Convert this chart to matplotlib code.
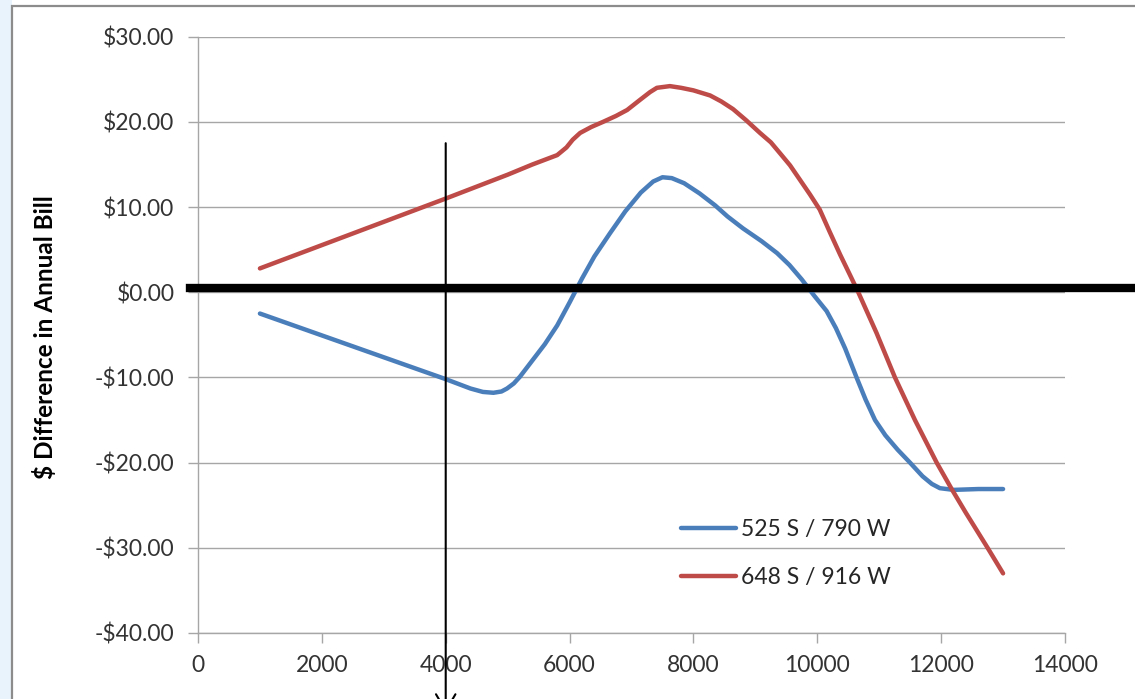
import matplotlib
matplotlib.use("Agg")
import matplotlib.pyplot as plt
from matplotlib.patches import Rectangle
from matplotlib.lines import Line2D
import matplotlib.transforms as mtransforms
from matplotlib.ticker import FuncFormatter

plt.rcParams['font.family'] = ['Lato', 'DejaVu Sans']

# ---- data ----
series_names = ["525 S / 790 W", "648 S / 916 W"]

blue_x = [1000, 4000, 4400, 4600, 4770, 4900, 4990, 5100, 5200, 5400, 5600, 5800, 6000,
          6200, 6400, 6650, 6900, 7150, 7350, 7500, 7650, 7850, 8100, 8350, 8550,
          8800, 9100, 9350, 9550, 9750, 9950, 10150, 10300, 10450, 10634, 10780, 10932,
          11100, 11300, 11497, 11700, 11850, 11980, 12200, 12600, 13000]
blue_y = [-2.5, -10.2, -11.3, -11.7, -11.8, -11.65, -11.3, -10.7, -9.9, -8.0, -6.1, -3.9, -1.2,
          1.6, 4.2, 6.9, 9.5, 11.7, 13.0, 13.5, 13.4, 12.8, 11.6, 10.2, 8.9,
          7.5, 6.0, 4.6, 3.2, 1.5, -0.4, -2.2, -4.2, -6.6, -10.0, -12.6, -15.0,
          -16.8, -18.5, -20.0, -21.6, -22.5, -23.0, -23.2, -23.1, -23.1]

red_x = [1000, 4000, 5000, 5400, 5800, 5950, 6050, 6170, 6350, 6540, 6750, 6930,
         7140, 7300, 7410, 7620, 7800, 8000, 8270, 8450, 8640, 8850, 9075, 9250,
         9400, 9560, 9720, 9880, 10040, 10200, 10370, 10530, 10662, 10958, 11254,
         11577, 11928, 12170, 12400, 12750, 13000]
red_y = [2.8, 11.0, 13.8, 15.0, 16.1, 17.0, 17.9, 18.7, 19.4, 20.0, 20.7, 21.4,
         22.6, 23.5, 24.0, 24.2, 24.0, 23.7, 23.1, 22.4, 21.5, 20.2, 18.7, 17.6,
         16.3, 14.9, 13.2, 11.5, 9.7, 7.1, 4.4, 2.0, 0.0, -4.8, -10.0,
         -15.0, -20.0, -23.1, -25.9, -30.0, -33.0]

x_ticks = [0, 2000, 4000, 6000, 8000, 10000, 12000, 14000]
y_ticks = [-40, -30, -20, -10, 0, 10, 20, 30]
zero_band_y = 0.55
marker_x = 4000
marker_top_y = 17.5

W, H = 1135, 699
fig = plt.figure(figsize=(W / 100, H / 100), dpi=100)

# left light-blue strip and chart frame
fig.patches.append(Rectangle((0, 0), 12 / W, 1, transform=fig.transFigure,
                             facecolor='#E9F3FB', edgecolor='none', zorder=-2))
fig.patches.append(Rectangle((12 / W, -0.05), 1.2, 1.05 - 6 / H, transform=fig.transFigure,
                             facecolor='white', edgecolor='#8C8C8C', linewidth=1.6, zorder=-1))

ax = fig.add_axes([198 / W, 1 - 633 / H, (1065 - 198) / W, (633 - 36.7) / H])
ax.set_zorder(1)
ax.set_facecolor('none')

ax.plot(blue_x, blue_y, color='#4A7EBB', lw=3.2, solid_capstyle='round',
        solid_joinstyle='round', label=series_names[0], zorder=3)
ax.plot(red_x, red_y, color='#BE4B48', lw=3.2, solid_capstyle='round',
        solid_joinstyle='round', label=series_names[1], zorder=3)

ax.set_xlim(0, 14000)
ax.set_ylim(-40, 30)
ax.set_xticks(x_ticks)
ax.set_yticks(y_ticks)
ax.yaxis.set_major_formatter(FuncFormatter(lambda v, p: ('-$%.2f' % abs(v)) if v < 0 else ('$%.2f' % v)))
ax.grid(axis='y', color='#A6A6A6', lw=1.0, zorder=1)
ax.set_axisbelow(True)
for s in ['top', 'right']:
    ax.spines[s].set_visible(False)
for s in ['left', 'bottom']:
    ax.spines[s].set_color('#A6A6A6')
    ax.spines[s].set_linewidth(1.0)
ax.tick_params(axis='both', direction='out', length=7, width=1.0, color='#A6A6A6',
               labelsize=16.5, labelcolor='#333333')
ax.tick_params(axis='y', pad=10)
ax.tick_params(axis='x', pad=9)

fig.text(45 / W, 1 - 337 / H, '$ Difference in Annual Bill', rotation=90,
         ha='center', va='center', fontsize=17.5, fontweight='bold', color='black')

# thick zero band extending beyond the plot
trans_fy = mtransforms.blended_transform_factory(fig.transFigure, ax.transData)
fig.add_artist(Line2D([190 / W, 1.0], [zero_band_y, zero_band_y], transform=trans_fy,
                      color='black', lw=6.0, zorder=5))

# vertical marker line with arrow at the bottom
trans_xf = mtransforms.blended_transform_factory(ax.transData, fig.transFigure)
top_fig = fig.transFigure.inverted().transform(ax.transData.transform((marker_x, marker_top_y)))[1]
ax.annotate('', xy=(marker_x, -0.02), xycoords=trans_xf,
            xytext=(marker_x, top_fig), textcoords=trans_xf,
            arrowprops=dict(arrowstyle='->,head_length=0.6,head_width=0.35', color='black',
                            lw=1.5, mutation_scale=20, shrinkA=0, shrinkB=0),
            annotation_clip=False, zorder=6)

leg = ax.legend(loc='upper left', bbox_to_anchor=(681 / W, 1 - 519 / H),
                bbox_transform=fig.transFigure, frameon=False, fontsize=16.5,
                handlelength=2.4, handletextpad=0.2, labelspacing=1.18,
                borderaxespad=0, borderpad=0)
for t in leg.get_texts():
    t.set_color('#262626')

fig.savefig('out.png', dpi=100)
